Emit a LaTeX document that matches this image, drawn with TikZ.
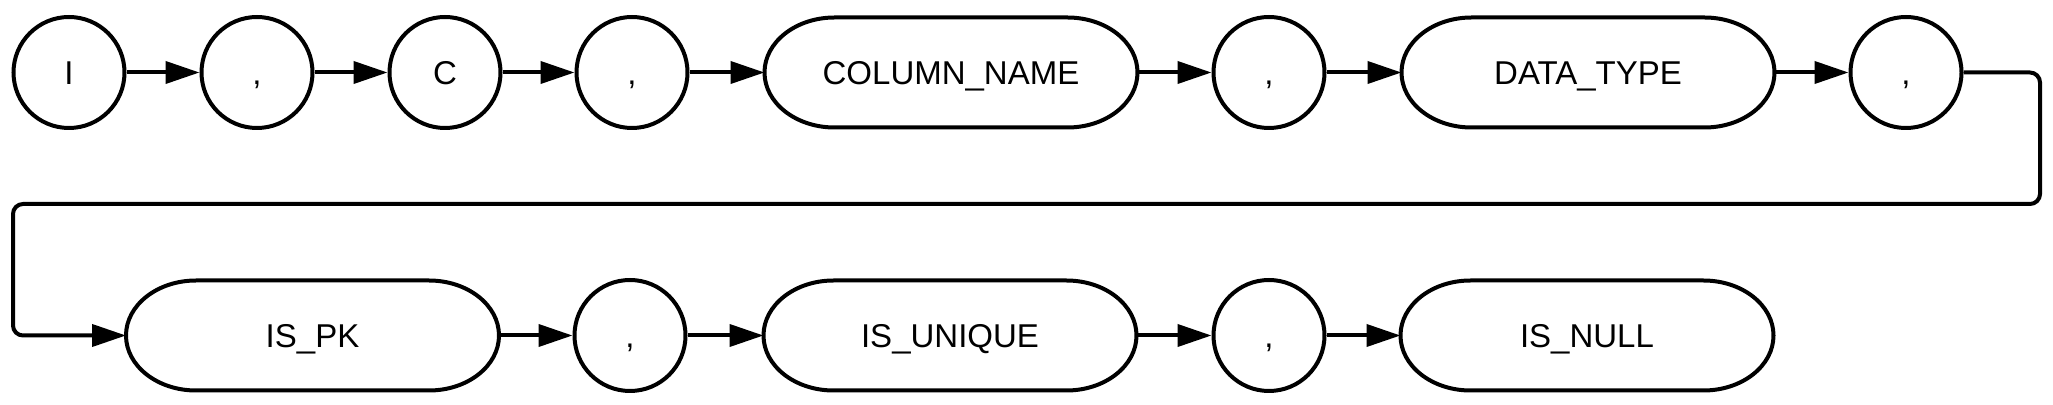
\documentclass[tikz,border=0pt]{standalone}
\usepackage{fontspec}
\setmainfont{Liberation Sans}
\usetikzlibrary{arrows.meta}
\begin{document}
\begin{tikzpicture}[x=0.5pt,y=-0.5pt,
  lw/.style={line width=2pt},
  lbl/.style={font=\fontsize{16.5}{19}\selectfont, text height=11.8pt, text depth=0pt},
  term/.style={circle, draw, lw, lbl, minimum size=55.5pt, inner sep=0pt},
  nonterm/.style={rectangle, draw=none, lbl, minimum width=186.5pt, minimum height=55pt, inner sep=0pt, outer sep=0pt},
  flow/.style={lw, -{Triangle[length=17pt,width=11pt]}}]
\useasboundingbox (0,0) rectangle (2053,405);
% row 1
\node[term] (c1) at (69,72.5) {I};
\node[term] (c2) at (257,72.5) {,};
\node[term] (c3) at (445,72.5) {C};
\node[term] (c4) at (632,72.5) {,};
\node[nonterm] (cn) at (951,72.5) {COLUMN\_NAME};
\node[term] (c5) at (1269,72.5) {,};
\node[nonterm] (dt) at (1588,72.5) {DATA\_TYPE};
\node[term] (c6) at (1906,72.5) {,};
% row 2
\node[nonterm] (pk) at (312.5,335.5) {IS\_PK};
\node[term] (c7) at (630,335.5) {,};
\node[nonterm] (uq) at (950,335.5) {IS\_UNIQUE};
\node[term] (c8) at (1269,335.5) {,};
\node[nonterm] (nl) at (1587,335.5) {IS\_NULL};
% stadium outlines
\foreach \n in {cn,dt,pk,uq,nl}
  \draw[lw] ([xshift=35pt]\n.north west) -- ([xshift=-35pt]\n.north east)
    arc[start angle=90, end angle=-90, x radius=35pt, y radius=27.5pt]
    -- ([xshift=35pt]\n.south west)
    arc[start angle=270, end angle=90, x radius=35pt, y radius=27.5pt] -- cycle;
% connectors
\draw[flow] (c1) -- (c2);
\draw[flow] (c2) -- (c3);
\draw[flow] (c3) -- (c4);
\draw[flow] (c4) -- (cn.west);
\draw[flow] (cn.east) -- (c5);
\draw[flow] (c5) -- (dt.west);
\draw[flow] (dt.east) -- (c6);
\coordinate (w1) at (2040,72.5);
\coordinate (w2) at (2040,204);
\coordinate (w3) at (13,204);
\coordinate (w4) at (13,335.5);
\draw[flow, rounded corners=5pt] (c6.east) -- (w1) -- (w2) -- (w3) -- (w4) -- (pk.west);
\draw[flow] (pk.east) -- (c7);
\draw[flow] (c7) -- (uq.west);
\draw[flow] (uq.east) -- (c8);
\draw[flow] (c8) -- (nl.west);
\end{tikzpicture}
\end{document}
